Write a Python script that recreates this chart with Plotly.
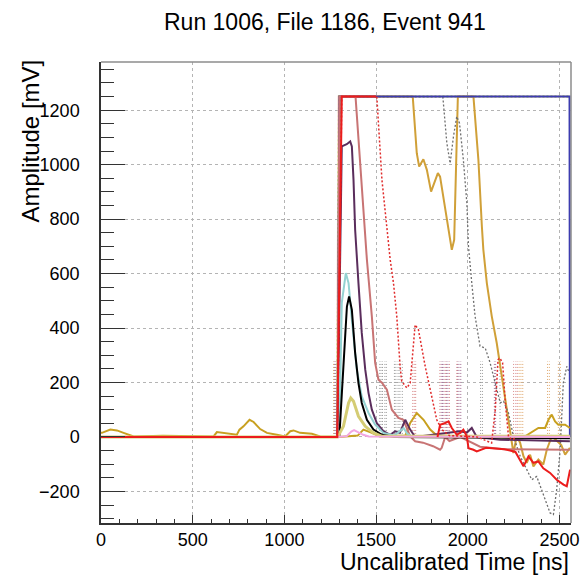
import plotly.graph_objects as go

# ---------------- data ----------------
TITLE = "Run 1006, File 1186, Event 941"
X_TITLE = "Uncalibrated Time [ns]"
Y_TITLE = "Amplitude [mV]"
X_RANGE = [0, 2563]
Y_RANGE = [-316, 1377]

peach_t = [0, 1286, 1296, 2557]
peach_v = [0, 0, 1250, 1250]

green_t = [0, 1288, 1298, 2557]
green_v = [0, 0, 1250, 1250]

gold_big_t = [0, 1290, 1302, 1700, 1722, 1735, 1758, 1777, 1800, 1837, 1849, 1886, 1913, 1926, 1940, 1946,
              2031, 2058, 2077, 2085, 2104, 2131, 2158, 2186, 2204, 2231, 2249, 2267, 2285, 2304, 2322,
              2340, 2358, 2385, 2412, 2431, 2458, 2480, 2510, 2531, 2557]
gold_big_v = [0, 0, 1250, 1250, 1042, 993, 1020, 981, 901, 969, 956, 797, 687, 724, 1177, 1250,
              1250, 1018, 773, 688, 565, 443, 345, 222, 137, 27, -59, 2, -20, -71, -95,
              -65, -108, -83, -101, -47, 2, -10, -30, -65, -40]

gray_t = [0, 1290, 1302, 1864, 1886, 1904, 1922, 1940, 1955, 1976, 1995, 2004, 2022, 2040, 2067, 2095,
          2122, 2149, 2177, 2195, 2222, 2249, 2286, 2322, 2349, 2376, 2395, 2422, 2449, 2467, 2485,
          2504, 2521, 2540, 2554]
gray_v = [0, 0, 1250, 1250, 1079, 1005, 1103, 1177, 1152, 1018, 859, 699, 565, 443, 333, 327,
          272, 198, 125, 131, 88, 2, -71, -120, -157, -145, -181, -230, -279, -285, -193,
          -47, 198, 259, 235]

blue_t = [0, 1290, 1300, 2555, 2557]
blue_v = [0, 0, 1250, 1250, 0]

gold_low_t = [0, 5, 51, 87, 123, 178, 337, 614, 632, 660, 705, 741, 755, 777, 810, 832, 868, 905, 959,
              1004, 1032, 1050, 1086, 1150, 1195, 1300, 1400, 1431, 1477, 1520, 1660, 1686, 1722, 1759,
              1795, 1831, 2300, 2358, 2385, 2422, 2440, 2458, 2476, 2494, 2531, 2557]
gold_low_v = [15, 15, 27, 24, 15, 2, 4, 2, 18, 15, 11, 8, 27, 39, 63, 55, 29, 15, 8,
              2, 21, 24, 15, 12, 2, 0, 5, 27, 15, 2, 5, 51, 88, 63,
              27, 5, -3, 21, 33, 33, 63, 82, 57, 45, 45, 33]

salmon_t = [0, 1290, 1300, 1388, 1450, 1477, 1495, 1513, 1532, 1559, 1586, 1622, 1649, 1686, 1713,
            1756, 1811, 1849, 1858, 1877, 1900, 1958, 2067, 2200, 2557]
salmon_v = [0, 0, 1250, 1250, 651, 443, 272, 210, 199, 174, 100, 70, 63, 2, -16,
            -21, -34, -47, -40, 0, -15, 0, -36, -45, -47]

purple_t = [0, 1290, 1305, 1313, 1340, 1359, 1368, 1377, 1386, 1395, 1404, 1422, 1441, 1459, 1477,
            1504, 1540, 1577, 1604, 1630, 1659, 1686, 1713, 1958, 1995, 2022, 2049, 2177, 2557]
purple_v = [0, 0, 700, 1067, 1075, 1085, 1067, 944, 760, 651, 565, 382, 247, 161, 100,
            51, 21, 8, 21, 15, 63, 27, 0, 21, 16, 33, 0, -10, -16]

cyan_t = [0, 1290, 1300, 1313, 1335, 1350, 1368, 1395, 1422, 1459, 1495, 1540, 1600, 1630, 1650,
          1670, 1700, 2557]
cyan_v = [0, 0, 30, 492, 602, 565, 430, 247, 149, 88, 45, 15, 5, 20, 33, 12, 0, 0]

black_t = [0, 1290, 1300, 1322, 1341, 1353, 1368, 1386, 1404, 1422, 1450, 1486, 1532, 1600, 2557]
black_v = [0, 0, 5, 247, 479, 516, 467, 308, 198, 125, 63, 27, 8, 0, -5]

khaki_t = [0, 1290, 1322, 1350, 1362, 1377, 1404, 1441, 1486, 1530, 2557]
khaki_v = [0, 0, 39, 125, 143, 131, 76, 39, 15, 3, 3]

pink_t = [0, 1290, 1340, 1365, 1380, 1400, 1430, 1460, 2557]
pink_v = [0, 0, 3, 20, 25, 18, 8, 2, 0]

red_dot_t = [0, 1290, 1313, 1504, 1532, 1559, 1577, 1595, 1613, 1631, 1640, 1668, 1686, 1713, 1731,
             1768, 1804, 1831, 1859, 1900, 2050, 2104, 2130, 2150, 2165, 2175, 2190, 2205, 2222,
             2240, 2260]
red_dot_v = [0, 0, 1250, 1250, 944, 761, 651, 565, 443, 259, 204, 180, 198, 412, 394,
             259, 149, 63, 27, 5, 0, -16, -22, 100, 284, 290, 272, 125, 2, -10, -5]

red_t = [0, 1288, 1313, 1500, None, 1835, 1849, 1877, 1895, 1913, 1940, 1958, 1976, 1995, 2004,
         2031, 2049, 2100, 2200, 2260, 2304, 2331, 2358, 2385, 2412, 2449, 2485, 2522, 2540, 2558]
red_v = [0, 0, 1250, 1250, None, 0, 45, 51, 57, 33, 8, 15, 27, 2, -41,
         -47, -53, -40, -45, -55, -108, -71, -95, -90, -115, -132, -157, -175, -181, -120]

# vertical dotted hit markers
SPIKE_TOP = 277
spike_gray_t = [1272, 1280, 1520, 1527, 1535, 1548, 1556, 1600, 1608, 1620, 1630, 1643, 2070, 2080, 2176]
spike_purple_t = [1276, 1855, 1862, 1870, 1885, 1892, 1945, 1952, 1962, 2145, 2152]
spike_rose_t = [1284, 1288, 1700, 1708, 1716, 1848, 1878, 1900, 1940, 2250, 2262, 2270]
spike_orange_t = [1268, 1292, 2280, 2290, 2300, 2435, 2445, 2494, 2505]

FONT = "Liberation Sans, Arial, Helvetica, sans-serif"

fig = go.Figure()


def add_spikes(times, color):
    xs, ys = [], []
    for t in times:
        xs += [t, t, None]
        ys += [0, SPIKE_TOP, None]
    fig.add_trace(go.Scatter(x=xs, y=ys, mode="lines",
                             line=dict(color=color, width=1, dash="1px,2px"),
                             hoverinfo="skip", showlegend=False))


add_spikes(spike_gray_t, "#9a9a9a")
add_spikes(spike_purple_t, "#a06a90")
add_spikes(spike_rose_t, "#d88a8a")
add_spikes(spike_orange_t, "#e0aa70")


def add_line(t, v, color, width=2, dash=None):
    fig.add_trace(go.Scatter(x=t, y=v, mode="lines",
                             line=dict(color=color, width=width, dash=dash),
                             connectgaps=False, hoverinfo="skip", showlegend=False))


add_line(peach_t, peach_v, "#f6c4b4", 2)
add_line(green_t, green_v, "#8ee03c", 2, "2px,2px")
add_line(gold_big_t, gold_big_v, "#d0a038", 2)
add_line(gray_t, gray_v, "#6e6e6e", 1.3, "2px,2px")
add_line(blue_t, blue_v, "#3c3cb0", 2)
add_line(gold_low_t, gold_low_v, "#c8a020", 2)
add_line(salmon_t, salmon_v, "#c87474", 2)
add_line(purple_t, purple_v, "#5a2d5c", 2)
add_line(cyan_t, cyan_v, "#94d2d2", 2)
add_line(black_t, black_v, "#000000", 2)
add_line(khaki_t, khaki_v, "#d4cc74", 3)
add_line(pink_t, pink_v, "#f2a6e2", 2)
add_line(red_dot_t, red_dot_v, "#e02a2a", 1.5, "2px,2px")
add_line(red_t, red_v, "#ec1c1c", 2)

axis_common = dict(
    showgrid=True, gridcolor="#b4b4b4", griddash="dot", gridwidth=1,
    zeroline=False, showline=True, linecolor="#333333", linewidth=1.5,
    ticks="inside", tickcolor="#333333", tickwidth=1,
    tickfont=dict(family=FONT, size=18, color="#000000"),
)

fig.update_xaxes(range=X_RANGE, tickvals=[0, 500, 1000, 1500, 2000, 2500], ticklen=8,
                 minor=dict(dtick=100, tick0=0, ticklen=4, ticks="inside", tickcolor="#333333", showgrid=False),
                 **axis_common)
fig.update_yaxes(range=Y_RANGE, tickvals=[-200, 0, 200, 400, 600, 800, 1000, 1200], ticklen=24,
                 minor=dict(dtick=50, tick0=0, ticklen=13, ticks="inside", tickcolor="#333333", showgrid=False),
                 ticklabelstandoff=16, **axis_common)

fig.update_layout(
    width=584, height=576,
    margin=dict(l=101, r=13, t=62, b=53, autoexpand=False),
    paper_bgcolor="white", plot_bgcolor="white",
    font=dict(family=FONT, color="#000000"),
    showlegend=False,
    shapes=[
        dict(type="line", xref="paper", yref="paper", x0=0, x1=1, y0=1, y1=1,
             line=dict(color="#8c8c8c", width=1.5), layer="above"),
        dict(type="line", xref="paper", yref="paper", x0=1, x1=1, y0=0, y1=1,
             line=dict(color="#8c8c8c", width=1.5), layer="above"),
    ],
    annotations=[
        dict(text=TITLE, xref="paper", yref="paper", x=(324.5 - 101) / 470, y=1 + 40 / 461,
             xanchor="center", yanchor="middle", showarrow=False,
             font=dict(family=FONT, size=23, color="#000000")),
        dict(text=X_TITLE, xref="paper", yref="paper", x=1.0, y=-(562 - 523) / 461,
             xanchor="right", yanchor="middle", showarrow=False,
             font=dict(family=FONT, size=23, color="#000000")),
        dict(text=Y_TITLE, xref="paper", yref="paper", x=-(101 - 30) / 470, y=1.0 + 4 / 461,
             xanchor="center", yanchor="top", textangle=-90, showarrow=False,
             font=dict(family=FONT, size=24, color="#000000")),
    ],
)

fig.write_html("out.html")
